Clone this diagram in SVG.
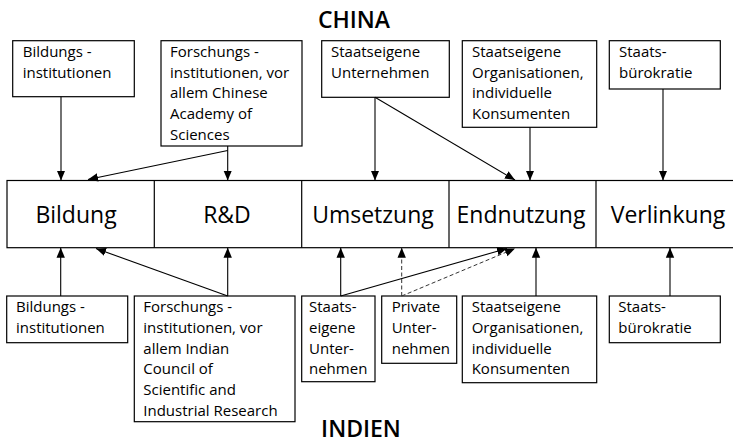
<svg xmlns="http://www.w3.org/2000/svg" width="733" height="444" viewBox="0 0 733 444">
<defs>
<marker id="ah" markerUnits="userSpaceOnUse" markerWidth="10" markerHeight="10" viewBox="0 0 10 10" refX="10" refY="5" orient="auto">
<path d="M0,0.8 L10,5 L0,9.2 Z" fill="#000"/>
</marker>
<style>
.box{fill:#fff;stroke:#000;stroke-width:1.2}
.t{font-family:"Open Sans","Noto Sans",sans-serif;font-size:15px;fill:#000}
.big{font-family:"Open Sans","Noto Sans",sans-serif;font-size:23px;fill:#000;text-anchor:middle}
.title{font-family:"Open Sans","Noto Sans",sans-serif;font-size:23px;font-weight:600;fill:#000;text-anchor:middle}
.c{stroke:#000;stroke-width:1.1;fill:none;marker-end:url(#ah)}
.d{stroke:#333;stroke-width:1;fill:none;stroke-dasharray:4 2.5;marker-end:url(#ah)}
</style>
</defs>
<text class="title" x="354" y="28">CHINA</text>
<text class="title" x="361" y="437">INDIEN</text>

<g id="bar">
<rect class="box" x="7" y="180.5" width="740" height="67.2"/>
<line x1="154.3" y1="180.5" x2="154.3" y2="247.7" stroke="#000" stroke-width="1.2"/>
<line x1="301.7" y1="180.5" x2="301.7" y2="247.7" stroke="#000" stroke-width="1.2"/>
<line x1="449" y1="180.5" x2="449" y2="247.7" stroke="#000" stroke-width="1.2"/>
<line x1="596" y1="180.5" x2="596" y2="247.7" stroke="#000" stroke-width="1.2"/>
</g>
<g id="bildung"><text class="big" x="76" y="223">Bildung</text></g>
<g id="rd"><text class="big" x="227" y="223">R&amp;D</text></g>
<g id="umsetzung"><text class="big" x="373" y="223">Umsetzung</text></g>
<g id="endnutzung"><text class="big" x="521" y="223">Endnutzung</text></g>
<g id="verlinkung"><text class="big" x="668" y="223">Verlinkung</text></g>

<g id="cn-bildung">
<rect class="box" x="12.7" y="40.7" width="121.6" height="56"/>
<text class="t" x="22.7" y="57">Bildungs -</text>
<text class="t" x="22.7" y="77.7">institutionen</text>
</g>
<g id="cn-forschung">
<rect class="box" x="161" y="40.7" width="141" height="105.3"/>
<text class="t" x="170" y="57">Forschungs -</text>
<text class="t" x="170" y="77.7">institutionen, vor</text>
<text class="t" x="170" y="98.4">allem Chinese</text>
<text class="t" x="170" y="119.1">Academy  of</text>
<text class="t" x="170" y="139.8">Sciences</text>
</g>
<g id="cn-unternehmen">
<rect class="box" x="321.7" y="40.7" width="127.6" height="56.6"/>
<text class="t" x="331" y="57">Staatseigene</text>
<text class="t" x="331" y="77.7">Unternehmen</text>
</g>
<g id="cn-konsumenten">
<rect class="box" x="462.3" y="40.7" width="134.4" height="86.6"/>
<text class="t" x="472" y="57">Staatseigene</text>
<text class="t" x="472" y="77.7">Organisationen,</text>
<text class="t" x="472" y="98.4">individuelle</text>
<text class="t" x="472" y="119.1">Konsumenten</text>
</g>
<g id="cn-buerokratie">
<rect class="box" x="609.3" y="40.7" width="111" height="48.3"/>
<text class="t" x="619" y="57">Staats-</text>
<text class="t" x="619" y="77.7">bürokratie</text>
</g>

<g id="in-bildung">
<rect class="box" x="6.7" y="296" width="121" height="46.7"/>
<text class="t" x="16" y="312.3">Bildungs -</text>
<text class="t" x="16" y="333">institutionen</text>
</g>
<g id="in-forschung">
<rect class="box" x="134.3" y="296" width="160.7" height="125.7"/>
<text class="t" x="143.3" y="312.3">Forschungs -</text>
<text class="t" x="143.3" y="333">institutionen, vor</text>
<text class="t" x="143.3" y="353.7">allem Indian</text>
<text class="t" x="143.3" y="374.4">Council  of</text>
<text class="t" x="143.3" y="395.1">Scientific  and</text>
<text class="t" x="143.3" y="415.8">Industrial Research</text>
</g>
<g id="in-staatsunternehmen">
<rect class="box" x="301.7" y="296" width="73.3" height="85.7"/>
<text class="t" x="309" y="312.3">Staats-</text>
<text class="t" x="309" y="333">eigene</text>
<text class="t" x="309" y="353.7">Unter-</text>
<text class="t" x="309" y="374.4">nehmen</text>
</g>
<g id="in-privat">
<rect class="box" x="381.7" y="296" width="75" height="67.3"/>
<text class="t" x="391.7" y="312.3">Private</text>
<text class="t" x="391.7" y="333">Unter-</text>
<text class="t" x="391.7" y="353.7">nehmen</text>
</g>
<g id="in-konsumenten">
<rect class="box" x="462.3" y="296" width="134.4" height="86.7"/>
<text class="t" x="471.7" y="312.3">Staatseigene</text>
<text class="t" x="471.7" y="333">Organisationen,</text>
<text class="t" x="471.7" y="353.7">individuelle</text>
<text class="t" x="471.7" y="374.4">Konsumenten</text>
</g>
<g id="in-buerokratie">
<rect class="box" x="609.3" y="296" width="111" height="46.7"/>
<text class="t" x="618.3" y="312.3">Staats-</text>
<text class="t" x="618.3" y="333">bürokratie</text>
</g>

<g id="connectors">
<line class="c" x1="61" y1="96.7" x2="61" y2="180.5"/>
<line class="c" x1="227.7" y1="146" x2="227.7" y2="180.5"/>
<line class="c" x1="227.7" y1="150.5" x2="88" y2="179.5"/>
<line class="c" x1="375" y1="97.3" x2="375" y2="180.5"/>
<line class="c" x1="375" y1="97.3" x2="515" y2="180"/>
<line class="c" x1="530" y1="127.3" x2="530" y2="180.5"/>
<line class="c" x1="663" y1="89" x2="663" y2="180.5"/>

<line class="c" x1="60.7" y1="296" x2="60.7" y2="247.7"/>
<line class="c" x1="227.7" y1="296" x2="227.7" y2="247.7"/>
<line class="c" x1="227.7" y1="296" x2="96" y2="248.5"/>
<line class="c" x1="340.7" y1="296" x2="340.7" y2="247.7"/>
<line class="c" x1="340.7" y1="296" x2="507" y2="248.5"/>
<line class="d" x1="401.7" y1="296" x2="401.7" y2="247.7"/>
<line class="d" x1="401.7" y1="296" x2="515" y2="248.5"/>
<line class="c" x1="536" y1="296" x2="536" y2="247.7"/>
<line class="c" x1="670" y1="296" x2="670" y2="247.7"/>
</g>
</svg>
